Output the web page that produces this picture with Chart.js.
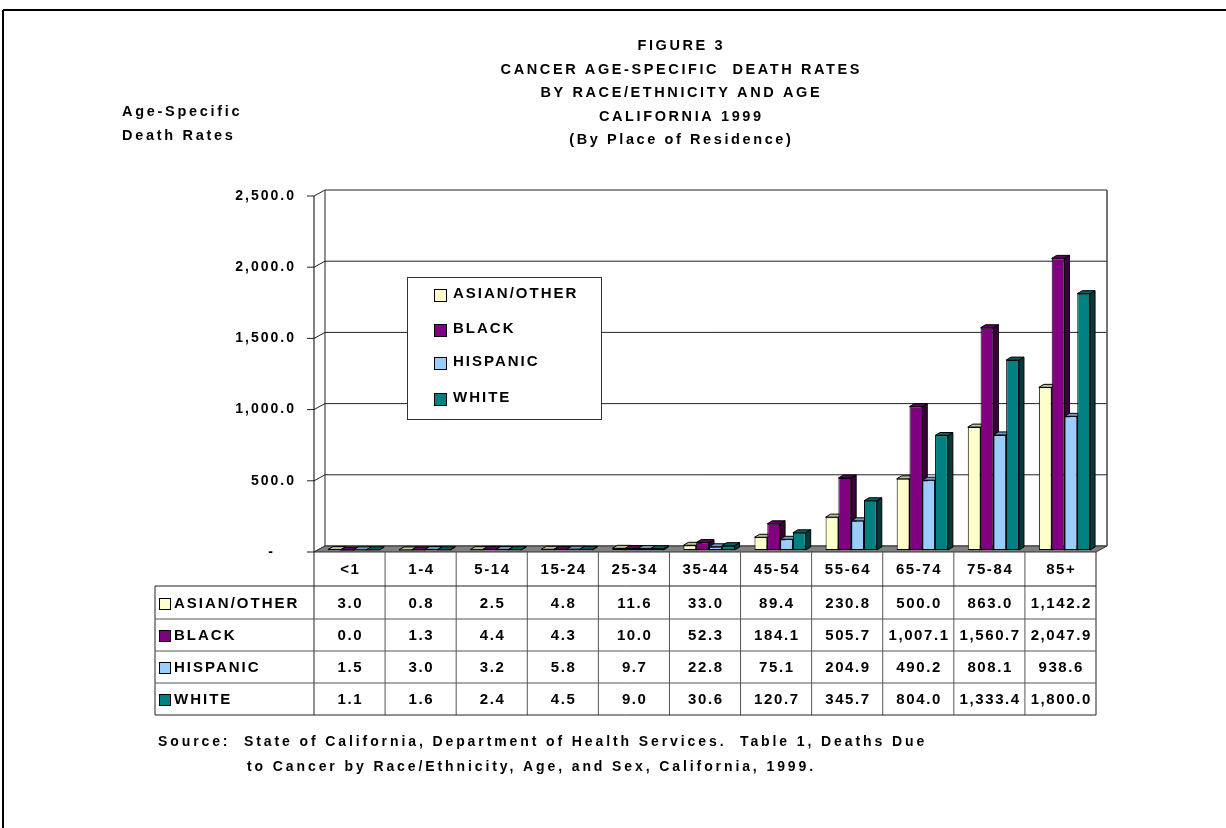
<!DOCTYPE html>
<html>
<head>
<meta charset="utf-8">
<script src="https://cdn.jsdelivr.net/npm/chart.js@4/dist/chart.umd.min.js"></script>
<style>
  html, body { margin: 0; padding: 0; background: #ffffff; }
  canvas { display: block; }
</style>
</head>
<body>
<canvas id="chart" width="1226" height="828"></canvas>
<script>
// Age groups and cancer death rates per race/ethnicity, California 1999
const categories = ['<1', '1-4', '5-14', '15-24', '25-34', '35-44', '45-54', '55-64', '65-74', '75-84', '85+'];
const asianOther = [3.0, 0.8, 2.5, 4.8, 11.6, 33.0, 89.4, 230.8, 500.0, 863.0, 1142.2];
const black      = [0.0, 1.3, 4.4, 4.3, 10.0, 52.3, 184.1, 505.7, 1007.1, 1560.7, 2047.9];
const hispanic   = [1.5, 3.0, 3.2, 5.8, 9.7, 22.8, 75.1, 204.9, 490.2, 808.1, 938.6];
const white      = [1.1, 1.6, 2.4, 4.5, 9.0, 30.6, 120.7, 345.7, 804.0, 1333.4, 1800.0];
const seriesNames = ['ASIAN/OTHER', 'BLACK', 'HISPANIC', 'WHITE'];
const yTicks = [0, 500, 1000, 1500, 2000, 2500];

const titleLines = [
  'FIGURE 3',
  'CANCER AGE-SPECIFIC  DEATH RATES',
  'BY RACE/ETHNICITY AND AGE',
  'CALIFORNIA 1999',
  '(By Place of Residence)'
];
const yTitleLines = ['Age-Specific', 'Death Rates'];
const sourceLines = [
  'Source:  State of California, Department of Health Services.  Table 1, Deaths Due',
  'to Cancer by Race/Ethnicity, Age, and Sex, California, 1999.'
];

const colors = ['#FFFFCC', '#800080', '#99CCFF', '#008080'];

const FONT = '"Liberation Sans", Arial, sans-serif';

// depth offsets relative to the bar plane (chart area)
const FRONT = { dx: -4, dy: 2 };   // front edge of the floor / axis
const BACK  = { dx: 7,  dy: -4 };  // back wall
const BAR_D = { dx: 5,  dy: -3 };  // depth of each column

function shade(hex, f) {
  const n = parseInt(hex.slice(1), 16);
  const r = Math.round(((n >> 16) & 255) * f);
  const g = Math.round(((n >> 8) & 255) * f);
  const b = Math.round((n & 255) * f);
  return `rgb(${r},${g},${b})`;
}

function fmt(v) {
  return v.toLocaleString('en-US', { minimumFractionDigits: 1, maximumFractionDigits: 1 });
}

function poly(ctx, pts, fill, stroke) {
  ctx.beginPath();
  ctx.moveTo(pts[0][0], pts[0][1]);
  for (let i = 1; i < pts.length; i++) ctx.lineTo(pts[i][0], pts[i][1]);
  ctx.closePath();
  if (fill) { ctx.fillStyle = fill; ctx.fill(); }
  if (stroke) { ctx.strokeStyle = stroke; ctx.lineWidth = 1; ctx.stroke(); }
}

function line(ctx, x1, y1, x2, y2, color, w) {
  ctx.beginPath();
  ctx.moveTo(x1, y1);
  ctx.lineTo(x2, y2);
  ctx.strokeStyle = color || '#000';
  ctx.lineWidth = w || 1;
  ctx.stroke();
}

// bold text with tracking; trailing spacing is compensated for centred / right-aligned text
function text(ctx, s, x, y, size, align, spacing) {
  const sp = spacing || 0;
  ctx.font = `bold ${size}px ${FONT}`;
  ctx.fillStyle = '#000';
  ctx.textAlign = align || 'left';
  ctx.textBaseline = 'middle';
  ctx.letterSpacing = sp + 'px';
  let xx = x;
  if (align === 'center') xx += sp / 2;
  if (align === 'right') xx += sp;
  ctx.fillText(s, xx, y);
  ctx.letterSpacing = '0px';
}

function keyBox(ctx, x, y, size, fill) {
  ctx.fillStyle = fill;
  ctx.fillRect(x + 0.5, y + 0.5, size, size);
  ctx.strokeStyle = '#000';
  ctx.lineWidth = 1;
  ctx.strokeRect(x + 0.5, y + 0.5, size, size);
}

const chartFrame = {
  id: 'chartFrame',
  beforeDraw(chart) {
    const ctx = chart.ctx;
    const ca = chart.chartArea;
    const ys = chart.scales.y;
    const xs = chart.scales.x;
    ctx.save();
    ctx.fillStyle = '#fff';
    ctx.fillRect(0, 0, chart.width, chart.height);

    // outer frame
    line(ctx, 3, 10, chart.width, 10, '#000', 2);
    line(ctx, 3, 10, 3, chart.height, '#000', 2);

    // titles
    titleLines.forEach((s, i) => text(ctx, s, 680, 46 + i * 23.5, 14.5, 'center', 2.6));
    yTitleLines.forEach((s, i) => text(ctx, s, 122, 112 + i * 24, 14.5, 'left', 2.7));

    const y0 = ys.getPixelForValue(0);
    const yTop = ys.getPixelForValue(yTicks[yTicks.length - 1]);

    // back wall, side wall gridlines and value axis
    yTicks.forEach(v => {
      const y = ys.getPixelForValue(v);
      line(ctx, ca.left + BACK.dx, y + BACK.dy, ca.right + BACK.dx, y + BACK.dy, '#222', 1);
      line(ctx, ca.left + FRONT.dx, y + FRONT.dy, ca.left + BACK.dx, y + BACK.dy, '#222', 1);
      line(ctx, ca.left + FRONT.dx - 7, y + FRONT.dy, ca.left + FRONT.dx, y + FRONT.dy, '#222', 1);
      if (v === 0) {
        text(ctx, '-', 270.5, y + FRONT.dy, 14, 'center', 0);
      } else {
        text(ctx, fmt(v), 294, y + FRONT.dy, 14, 'right', 2);
      }
    });
    line(ctx, ca.left + BACK.dx, yTop + BACK.dy, ca.left + BACK.dx, y0 + BACK.dy, '#222', 1);
    line(ctx, ca.right + BACK.dx, yTop + BACK.dy, ca.right + BACK.dx, y0 + BACK.dy, '#444', 1.5);
    line(ctx, ca.left + FRONT.dx, yTop + FRONT.dy, ca.left + FRONT.dx, y0 + FRONT.dy, '#000', 1);

    // floor
    poly(ctx, [
      [ca.left + FRONT.dx, y0 + FRONT.dy],
      [ca.right + FRONT.dx, y0 + FRONT.dy],
      [ca.right + BACK.dx, y0 + BACK.dy],
      [ca.left + BACK.dx, y0 + BACK.dy]
    ], '#808080', '#333');

    // data table
    const n = categories.length;
    const catW = (ca.right - ca.left) / n;
    const top = y0 + FRONT.dy;
    const rowTops = [top, 586, 619, 651, 683, 715];
    const tableLeft = 155;
    const tableRight = ca.right + FRONT.dx;
    for (let i = 0; i <= n; i++) {
      const xb = xs.getPixelForValue(0) - catW / 2 + i * catW + FRONT.dx;
      line(ctx, xb, top, xb, rowTops[5], i === 0 || i === n ? '#222' : '#555', 1);
    }
    line(ctx, tableLeft, rowTops[1], tableLeft, rowTops[5], '#222', 1);
    for (let r = 1; r <= 5; r++) {
      line(ctx, tableLeft, rowTops[r], tableRight, rowTops[r], r === 5 || r === 1 ? '#222' : '#555', 1);
    }
    categories.forEach((c, i) => {
      text(ctx, c, xs.getPixelForValue(i) + FRONT.dx, (rowTops[0] + rowTops[1]) / 2 + 1, 15, 'center', 1.6);
    });
    chart.data.datasets.forEach((ds, d) => {
      const cy = (rowTops[d + 1] + rowTops[d + 2]) / 2 + 1;
      keyBox(ctx, 159, Math.round(cy - 6), 11, ds.backgroundColor);
      text(ctx, ds.label, 174, cy, 15, 'left', 2.0);
      ds.data.forEach((v, i) => {
        text(ctx, fmt(v), xs.getPixelForValue(i) + FRONT.dx, cy, 15, 'center', 1.6);
      });
    });

    // source note
    text(ctx, sourceLines[0], 158, 742, 14, 'left', 2.9);
    text(ctx, sourceLines[1], 247, 767, 14, 'left', 2.9);
    ctx.restore();
  },
  beforeDatasetsDraw(chart) {
    // side and top faces of each column, drawn beneath the front faces
    const ctx = chart.ctx;
    ctx.save();
    const metas = chart.data.datasets.map((_, d) => chart.getDatasetMeta(d));
    const n = categories.length;
    for (let i = 0; i < n; i++) {
      metas.forEach((meta, d) => {
        const el = meta.data[i];
        const col = chart.data.datasets[d].backgroundColor;
        const left = el.x - el.width / 2;
        const right = el.x + el.width / 2;
        const topY = Math.min(el.y, el.base);
        const botY = Math.max(el.y, el.base);
        poly(ctx, [
          [right, topY], [right + BAR_D.dx, topY + BAR_D.dy],
          [right + BAR_D.dx, botY + BAR_D.dy], [right, botY]
        ], shade(col, 0.45), '#000');
        poly(ctx, [
          [left, topY], [left + BAR_D.dx, topY + BAR_D.dy],
          [right + BAR_D.dx, topY + BAR_D.dy], [right, topY]
        ], shade(col, 0.75), '#000');
      });
    }
    ctx.restore();
  },
  afterDatasetsDraw(chart) {
    // legend box
    const ctx = chart.ctx;
    ctx.save();
    ctx.fillStyle = '#fff';
    ctx.fillRect(407.5, 277.5, 194, 142);
    ctx.strokeStyle = '#333';
    ctx.lineWidth = 1;
    ctx.strokeRect(407.5, 277.5, 194, 142);
    const ys = [293.5, 329, 362, 398];
    chart.data.datasets.forEach((ds, d) => {
      keyBox(ctx, 434, Math.round(ys[d] - 5), 12, ds.backgroundColor);
      text(ctx, ds.label, 453, ys[d], 15, 'left', 2.0);
    });
    ctx.restore();
  }
};

const seriesData = [asianOther, black, hispanic, white];

new Chart(document.getElementById('chart'), {
  type: 'bar',
  data: {
    labels: categories,
    datasets: seriesNames.map((name, d) => ({
      label: name,
      data: seriesData[d],
      backgroundColor: colors[d],
      borderColor: '#000',
      borderWidth: 1,
      borderSkipped: false,
      categoryPercentage: 0.72,
      barPercentage: 1.0
    }))
  },
  options: {
    responsive: false,
    animation: false,
    devicePixelRatio: 1,
    layout: { padding: { left: 318, top: 194, right: 126, bottom: 278 } },
    scales: {
      x: { display: false },
      y: { display: false, min: 0, max: 2500 }
    },
    plugins: {
      legend: { display: false },
      title: { display: false },
      tooltip: { enabled: false }
    }
  },
  plugins: [chartFrame]
});
</script>
</body>
</html>
